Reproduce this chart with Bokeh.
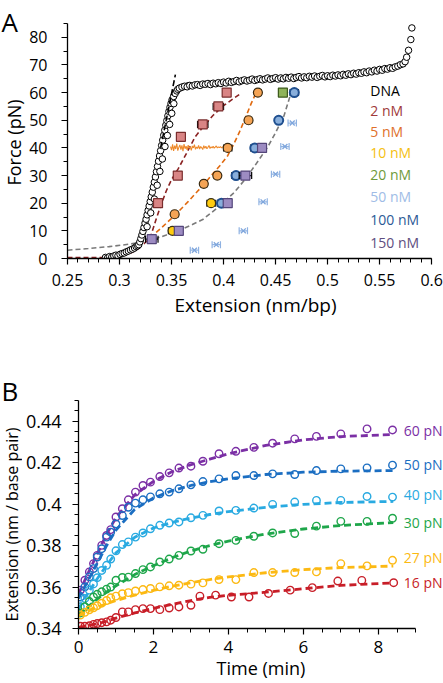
import numpy as np
from bokeh.plotting import figure
from bokeh.layouts import column, row
from bokeh.models import Range1d, FixedTicker, NumeralTickFormatter, Label
from bokeh.embed import file_html
from bokeh.resources import INLINE
from bokeh.core.properties import value

FONT = "Open Sans"

# ======================= Panel A data =======================
# DNA force-extension curve (extension nm/bp, force pN)
DNA = [
    (0.2865, 0.4), (0.2885, 0.2), (0.2905, 0.7), (0.2925, 0.5), (0.2945, 0.9), (0.2965, 1.2),
    (0.2985, 1.0), (0.3005, 1.5), (0.3025, 1.8), (0.3045, 2.0), (0.3065, 2.4), (0.3085, 2.7),
    (0.3105, 3.1), (0.3125, 3.4), (0.3145, 3.8), (0.3160, 4.3), (0.3175, 4.6),
    (0.3185, 5.0), (0.3195, 6.0), (0.3205, 7.2), (0.3215, 8.5), (0.3225, 9.8), (0.3235, 11.2),
    (0.3245, 12.8), (0.3255, 14.2), (0.3265, 15.8), (0.3275, 17.4), (0.3285, 19.0), (0.3295, 20.6),
    (0.3305, 22.3), (0.3315, 24.0), (0.3325, 25.8), (0.3335, 27.6), (0.3345, 29.5), (0.3355, 31.4),
    (0.3365, 33.3), (0.3375, 35.2), (0.3385, 37.1), (0.3395, 39.0), (0.3405, 40.9), (0.3415, 42.8),
    (0.3425, 44.6), (0.3435, 46.4), (0.3445, 48.2), (0.3455, 49.9), (0.3465, 51.6), (0.3475, 53.2),
    (0.3485, 54.7), (0.3495, 56.1), (0.3505, 57.4), (0.3520, 58.6), (0.3535, 59.7), (0.3550, 60.6),
    (0.3265, 11.5), (0.3300, 16.5), (0.3335, 21.5), (0.3362, 26.5), (0.3388, 31.5), (0.3412, 36.0),
    (0.3437, 40.5), (0.3460, 44.5), (0.3482, 48.5), (0.3502, 52.5), (0.3522, 56.0),
    (0.3560, 61.2), (0.3590, 61.8), (0.3620, 62.2), (0.3660, 62.5),
    (0.3575, 61.6), (0.3600, 62.0), (0.3625, 62.3), (0.3650, 62.1), (0.3675, 62.6), (0.3700, 62.4),
    (0.3725, 62.8), (0.3750, 62.9), (0.3775, 62.6), (0.3800, 63.1), (0.3825, 63.0), (0.3850, 63.3),
    (0.3875, 62.9), (0.3900, 63.4), (0.3925, 63.2), (0.3950, 63.6), (0.3975, 63.3), (0.4000, 63.8),
    (0.4025, 63.5), (0.4050, 64.1), (0.4075, 63.7), (0.4100, 64.0), (0.4125, 64.4), (0.4150, 63.9),
    (0.4175, 64.3), (0.4200, 64.6), (0.4225, 64.2), (0.4250, 64.5), (0.4275, 64.9), (0.4300, 64.4),
    (0.4325, 64.7), (0.4350, 65.0), (0.4375, 64.6), (0.4400, 64.9), (0.4425, 65.3), (0.4450, 64.8),
    (0.4475, 65.1), (0.4500, 65.4), (0.4525, 64.9), (0.4550, 65.3), (0.4575, 65.0), (0.4600, 65.5),
    (0.4625, 65.2), (0.4650, 65.6), (0.4675, 65.1), (0.4700, 65.5), (0.4725, 65.8), (0.4750, 65.3),
    (0.4775, 65.7), (0.4800, 65.4), (0.4825, 65.9), (0.4850, 65.6), (0.4875, 66.0), (0.4900, 65.5),
    (0.4925, 65.9), (0.4950, 66.2), (0.4975, 65.7), (0.5000, 66.1), (0.5025, 65.8), (0.5050, 66.3),
    (0.5075, 66.0), (0.5100, 66.4), (0.5125, 66.1), (0.5150, 66.6), (0.5175, 66.3), (0.5200, 66.8),
    (0.5225, 66.5), (0.5250, 67.0), (0.5275, 66.7), (0.5300, 67.2), (0.5325, 67.0), (0.5350, 67.5),
    (0.5375, 67.2), (0.5400, 67.8), (0.5425, 67.5), (0.5450, 68.1), (0.5475, 67.8), (0.5500, 68.4),
    (0.5525, 68.1), (0.5550, 68.7), (0.5575, 68.5), (0.5600, 69.0), (0.5625, 68.8), (0.5650, 69.3),
    (0.5675, 69.6), (0.5700, 70.1), (0.5725, 70.4), (0.5745, 71.2), (0.5760, 72.8), (0.5778, 75.3),
    (0.5800, 79.2), (0.5810, 83.4),
]
DNA_FIT = [(0.3395, 40.0), (0.3537, 66.5)]

# orange force-clamp trace at 40 pN
TRACE_40 = [
    (0.349, 40.5), (0.350, 39.2), (0.351, 41.3), (0.352, 38.9), (0.353, 40.8), (0.354, 39.6),
    (0.355, 41.6), (0.356, 39.0), (0.357, 40.2), (0.358, 41.1), (0.359, 39.4), (0.360, 40.9),
    (0.361, 38.8), (0.362, 41.4), (0.363, 39.7), (0.364, 40.6), (0.365, 39.3), (0.366, 41.0),
    (0.367, 39.9), (0.368, 40.4), (0.369, 39.1), (0.370, 40.7), (0.371, 40.0), (0.372, 41.2),
    (0.373, 39.5), (0.374, 40.3), (0.375, 39.8), (0.376, 40.9), (0.377, 39.6), (0.378, 40.5),
    (0.379, 40.1), (0.380, 39.4), (0.381, 40.8), (0.382, 39.9), (0.383, 40.6), (0.384, 39.7),
    (0.385, 40.2), (0.386, 40.9), (0.387, 39.8), (0.388, 40.4), (0.389, 40.0), (0.390, 40.6),
    (0.391, 39.9), (0.392, 40.3), (0.393, 40.7), (0.394, 40.0), (0.395, 40.4), (0.396, 40.1),
    (0.397, 40.5), (0.398, 40.0), (0.399, 40.3), (0.400, 40.6), (0.401, 40.2), (0.402, 40.4),
    (0.403, 40.1), (0.404, 40.3),
]

# dashed fits
FIT_2NM = [(0.25, 0.3), (0.27, 0.3), (0.29, 0.4), (0.30, 0.8), (0.31, 1.8), (0.318, 3.5),
           (0.324, 5.5), (0.3295, 7.5), (0.335, 14.0), (0.34, 19.5), (0.345, 24.5), (0.35, 28.5),
           (0.3565, 32.5), (0.365, 38.5), (0.3724, 43.8), (0.38, 47.5), (0.39, 51.8), (0.40, 55.3),
           (0.41, 58.0), (0.417, 59.8)]
FIT_5NM = [(0.3295, 7.5), (0.34, 11.0), (0.35, 14.5), (0.355, 16.3), (0.365, 20.2), (0.375, 24.3),
           (0.382, 27.2), (0.39, 30.8), (0.397, 33.8), (0.404, 37.2), (0.41, 41.5), (0.415, 45.5),
           (0.42, 50.0), (0.4265, 56.0), (0.4315, 60.2)]
FIT_GRAY = [(0.25, 3.0), (0.27, 3.6), (0.29, 4.3), (0.31, 5.2), (0.33, 6.6), (0.345, 8.5),
            (0.36, 10.6), (0.37, 12.3), (0.38, 14.1), (0.395, 18.6), (0.41, 23.8), (0.42, 28.3),
            (0.43, 33.5), (0.4424, 40.3), (0.45, 45.5), (0.458, 51.5), (0.465, 60.1)]

# protein concentration series: extension, force, extension error (half width)
C2_X = [0.337, 0.356, 0.359, 0.380, 0.395, 0.403]
C2_F = [20, 30, 44, 48.5, 55, 60]
C2_E = [0.004, 0.003, 0.002, 0.005, 0.005, 0.002]
C5_X = [0.353, 0.381, 0.394, 0.404, 0.424, 0.433]
C5_F = [16, 27, 30, 40, 50, 60]
C5_E = [0.003, 0.003, 0.003, 0.004, 0.003, 0.003]
C10_X = [0.351, 0.388]
C10_F = [10, 20]
C10_E = [0.004, 0.004]
C20_X = [0.457]
C20_F = [60]
C20_E = [0.004]
C50_X = [0.372, 0.393, 0.419, 0.438, 0.450, 0.459, 0.466]
C50_F = [3, 5, 10, 20.5, 30.5, 40.5, 49]
C50_E = [0.004, 0.004, 0.004, 0.004, 0.004, 0.004, 0.004]
C100_X = [0.398, 0.412, 0.430, 0.453, 0.468]
C100_F = [20, 30, 40, 50, 60]
C100_E = [0.004, 0.004, 0.004, 0.003, 0.004]
C150_X = [0.331, 0.357, 0.404, 0.421, 0.437]
C150_F = [7, 10, 20, 30, 40]
C150_E = [0.006, 0.003, 0.003, 0.006, 0.003]

LEGEND_A = ["DNA", "2 nM", "5 nM", "10 nM", "20 nM", "50 nM", "100 nM", "150 nM"]
LEGEND_A_COLORS = ["#000000", "#a03a3a", "#e0702a", "#f5c010", "#6f9a3a", "#a0bce6", "#2c5a96", "#5e4e80"]

X_TICKS_A = [0.25, 0.3, 0.35, 0.4, 0.45, 0.5, 0.55, 0.6]
Y_TICKS_A = [0, 10, 20, 30, 40, 50, 60, 70, 80]

# ======================= Panel B data =======================
T_EARLY = [0.05, 0.17, 0.29, 0.40, 0.50, 0.62, 0.75, 0.86, 1.00, 1.17, 1.33, 1.52, 1.72, 1.92,
           2.17, 2.42, 2.68, 3.00]
T_LATE = [3.32, 3.75, 4.20, 4.68, 5.18, 5.77, 6.35, 7.00, 7.70, 8.38]
T_LATE_16 = [3.24, 3.66, 4.08, 4.55, 5.07, 5.65, 6.24, 6.92, 7.56, 8.41]

E60 = [0.3585, 0.3633, 0.3673, 0.3713, 0.3753, 0.3801, 0.3849, 0.3877, 0.3938, 0.3978, 0.4021, 0.4058,
       0.4090, 0.4106, 0.4133, 0.4151, 0.4174, 0.4183,
       0.4207, 0.4243, 0.4255, 0.4274, 0.4294, 0.4315, 0.4327, 0.4339, 0.4363, 0.4358]
E50 = [0.3552, 0.3601, 0.3649, 0.3689, 0.3745, 0.3785, 0.3841, 0.3865, 0.3905, 0.3945, 0.3985, 0.4005,
       0.4021, 0.4035, 0.4050, 0.4058, 0.4074, 0.4093,
       0.4109, 0.4122, 0.4138, 0.4138, 0.4146, 0.4143, 0.4162, 0.4170, 0.4175, 0.4188]
E40 = [0.3505, 0.3545, 0.3585, 0.3615, 0.3645, 0.3680, 0.3705, 0.3735, 0.3775, 0.3805, 0.3818, 0.3841,
       0.3861, 0.3881, 0.3898, 0.3909, 0.3914, 0.3934,
       0.3946, 0.3967, 0.3970, 0.3981, 0.3999, 0.4010, 0.4018, 0.4018, 0.4037, 0.4034]
E30 = [0.3475, 0.3505, 0.3530, 0.3552, 0.3565, 0.3577, 0.3590, 0.3600, 0.3633, 0.3646, 0.3648, 0.3665,
       0.3684, 0.3697, 0.3721, 0.3735, 0.3753, 0.3774,
       0.3782, 0.3809, 0.3825, 0.3845, 0.3861, 0.3858, 0.3894, 0.3917, 0.3917, 0.3932]
E27 = [0.3465, 0.3478, 0.3490, 0.3500, 0.3510, 0.3522, 0.3535, 0.3548, 0.3556, 0.3568, 0.3573, 0.3581,
       0.3588, 0.3593, 0.3601, 0.3606, 0.3609, 0.3614,
       0.3620, 0.3636, 0.3636, 0.3670, 0.3670, 0.3670, 0.3673, 0.3713, 0.3702, 0.3729]
E16 = [0.3411, 0.3411, 0.3413, 0.3420, 0.3424, 0.3428, 0.3432, 0.3440, 0.3453, 0.3480, 0.3480, 0.3491,
       0.3496, 0.3496, 0.3491, 0.3499, 0.3504, 0.3512,
       0.3556, 0.3561, 0.3552, 0.3552, 0.3569, 0.3585, 0.3597, 0.3629, 0.3632, 0.3621]

T_FIT = [0, 0.25, 0.5, 0.75, 1, 1.5, 2, 2.5, 3, 3.5, 4, 5, 6, 7, 8.4]
FIT60 = [0.3565, 0.3665, 0.3760, 0.3855, 0.3935, 0.4045, 0.4110, 0.4157, 0.4190, 0.4217, 0.4243, 0.4283, 0.4310, 0.4326, 0.4336]
FIT50 = [0.3545, 0.3630, 0.3715, 0.3800, 0.3875, 0.3975, 0.4030, 0.4065, 0.4090, 0.4108, 0.4122, 0.4143, 0.4154, 0.4159, 0.4162]
FIT40 = [0.3495, 0.3570, 0.3640, 0.3705, 0.3765, 0.3840, 0.3885, 0.3912, 0.3933, 0.3950, 0.3964, 0.3985, 0.3999, 0.4008, 0.4013]
FIT30 = [0.3465, 0.3505, 0.3542, 0.3576, 0.3606, 0.3660, 0.3703, 0.3742, 0.3774, 0.3800, 0.3822, 0.3856, 0.3880, 0.3897, 0.3911]
FIT27 = [0.3462, 0.3484, 0.3503, 0.3520, 0.3535, 0.3561, 0.3584, 0.3604, 0.3621, 0.3636, 0.3649, 0.3669, 0.3684, 0.3694, 0.3701]
FIT16 = [0.3405, 0.3413, 0.3423, 0.3435, 0.3450, 0.3475, 0.3497, 0.3517, 0.3535, 0.3550, 0.3560, 0.3575, 0.3592, 0.3608, 0.3620]

LABELS_B = ["60 pN", "50 pN", "40 pN", "30 pN", "27 pN", "16 pN"]
COLORS_B = ["#7b2fa5", "#1b6ec2", "#29aae1", "#1ea64a", "#fcb913", "#c81e28"]

X_TICKS_B = [0, 2, 4, 6, 8]
Y_TICKS_B = [0.34, 0.36, 0.38, 0.40, 0.42, 0.44]


def style_axes(p, xsize, ysize, x_standoff, y_standoff):
    p.xgrid.visible = False
    p.ygrid.visible = False
    p.outline_line_color = None
    p.background_fill_color = "white"
    p.border_fill_color = "white"
    for ax in (p.xaxis[0], p.yaxis[0]):
        ax.axis_line_color = "black"
        ax.axis_line_width = 1.3
        ax.major_tick_line_color = "black"
        ax.major_tick_line_width = 1.2
        ax.minor_tick_line_color = "black"
        ax.minor_tick_line_width = 1.0
        ax.major_tick_in = 0
        ax.major_tick_out = 6
        ax.minor_tick_in = 0
        ax.minor_tick_out = 4
        ax.major_label_text_font = FONT
        ax.major_label_text_color = "black"
        ax.axis_label_text_font = FONT
        ax.axis_label_text_font_style = "normal"
        ax.axis_label_text_color = "black"
    p.xaxis[0].major_label_text_font_size = xsize
    p.yaxis[0].major_label_text_font_size = ysize
    p.xaxis[0].major_label_standoff = x_standoff
    p.yaxis[0].major_label_standoff = y_standoff


def strip(width, height, y_top):
    # narrow text strip using page pixel coordinates (y grows downwards)
    s = figure(width=width, height=height, x_range=Range1d(0, width),
               y_range=Range1d(y_top + height, y_top), x_axis_type=None, y_axis_type=None,
               output_backend="svg", toolbar_location=None, min_border=0)
    s.outline_line_color = None
    s.xgrid.visible = False
    s.ygrid.visible = False
    return s


def xy(pairs):
    return [a for a, b in pairs], [b for a, b in pairs]


# ======================= Row 1: panel A =======================
sA = strip(26, 330, 0)
sA.text([1], [21], text=["A"], text_font=value(FONT), text_font_size="26px",
        text_color="black", text_baseline="alphabetic", text_align="left")
sA.text([13], [142], text=["Force (pN)"], angle=np.pi / 2, text_font=value(FONT),
        text_font_size="18px", text_color="black", text_baseline="middle", text_align="center")

pa = figure(width=417, height=330, x_range=Range1d(0.25, 0.6114), y_range=Range1d(0, 85),
            output_backend="svg", toolbar_location=None,
            min_border_left=39, min_border_right=0, min_border_top=23, min_border_bottom=72)
style_axes(pa, "16px", "16px", 9, 14)
pa.xaxis[0].bounds = (0.25, 0.6)
pa.xaxis[0].ticker = FixedTicker(ticks=X_TICKS_A,
                                 minor_ticks=[round(0.25 + 0.01 * i, 3) for i in range(36)])
pa.yaxis[0].ticker = FixedTicker(ticks=Y_TICKS_A, minor_ticks=[5 * i for i in range(18)])
pa.xaxis[0].formatter = NumeralTickFormatter(format="0.[00]")
pa.xaxis[0].axis_label = "Extension (nm/bp)"
pa.xaxis[0].axis_label_text_font_size = "19px"
pa.xaxis[0].axis_label_standoff = 3

gx, gy = xy(FIT_GRAY)
pa.line(gx, gy, line_color="#7a7a7a", line_width=1.6, line_dash="5 3")
rx, ry = xy(FIT_2NM)
pa.line(rx, ry, line_color="#8b2323", line_width=1.6, line_dash="5 3")
ox, oy = xy(FIT_5NM)
pa.line(ox, oy, line_color="#e06a10", line_width=1.6, line_dash="5 3")

dx, dy = xy(DNA)
pa.scatter(dx, dy, marker="circle", size=6.5, line_color="black", fill_color="white", line_width=1.0)
fx, fy = xy(DNA_FIT)
pa.line(fx, fy, line_color="black", line_width=1.6, line_dash="6 3")

tx, ty = xy(TRACE_40)
pa.line(tx, ty, line_color="#ee8a2c", line_width=1.1)


def series(xs, fs, es, marker, fill, line, bar_color="black", lw=1.2, size=9):
    lo = [x - e for x, e in zip(xs, es)]
    hi = [x + e for x, e in zip(xs, es)]
    pa.segment(lo, fs, hi, fs, line_color=bar_color, line_width=1.2)
    pa.scatter(lo + hi, fs + fs, marker="dash", angle=np.pi / 2, size=7,
               line_color=bar_color, line_width=1.2)
    pa.scatter(xs, fs, marker=marker, size=size, fill_color=fill, line_color=line, line_width=lw)


series(C2_X, C2_F, C2_E, "square", "#d98585", "#7a2e2e")
series(C5_X, C5_F, C5_E, "circle", "#f5a455", "#3a2a10")
series(C10_X, C10_F, C10_E, "circle", "#ffcc11", "#3a3010")
series(C20_X, C20_F, C20_E, "square", "#8fb35a", "#3d5a1c")
series(C50_X, C50_F, C50_E, "x", None, "#7fa6dc", bar_color="#8fb2e2", lw=1.3, size=7)
series(C100_X, C100_F, C100_E, "circle", "#88aedb", "#1f4f8f", lw=2.0)
series(C150_X, C150_F, C150_E, "square", "#9d8cc2", "#54467a")

legend_y = [60.6, 53.5, 46.0, 38.4, 30.4, 22.5, 14.2, 5.7]
pa.text([0.541] * len(LEGEND_A), legend_y, text=LEGEND_A, text_color=LEGEND_A_COLORS,
        text_font=value(FONT), text_font_size="14px", text_baseline="middle", text_align="left")

# ======================= Row 2: panel B =======================
sB = strip(22, 353, 330)
sB.text([1], [390], text=["B"], text_font=value(FONT), text_font_size="26px",
        text_color="black", text_baseline="alphabetic", text_align="left")
sB.text([11], [524], text=["Extension (nm / base pair)"], angle=np.pi / 2, text_font=value(FONT),
        text_font_size="16px", text_color="black", text_baseline="middle", text_align="center")

pb = figure(width=421, height=353, x_range=Range1d(0, 9.74), y_range=Range1d(0.34, 0.45),
            output_backend="svg", toolbar_location=None,
            min_border_left=53, min_border_right=0, min_border_top=70, min_border_bottom=55)
style_axes(pb, "17px", "18px", 6, 11)
pb.xaxis[0].bounds = (0, 9)
pb.xaxis[0].ticker = FixedTicker(ticks=X_TICKS_B, minor_ticks=[0.5 * i for i in range(19)])
pb.yaxis[0].ticker = FixedTicker(ticks=Y_TICKS_B,
                                 minor_ticks=[round(0.34 + 0.005 * i, 3) for i in range(23)])
pb.yaxis[0].formatter = NumeralTickFormatter(format="0.[00]")
pb.xaxis[0].axis_label = "Time (min)"
pb.xaxis[0].axis_label_text_font_size = "18px"
pb.xaxis[0].axis_label_standoff = 0

data_b = [E60, E50, E40, E30, E27, E16]
fits_b = [FIT60, FIT50, FIT40, FIT30, FIT27, FIT16]
label_offsets = [0.0019, 0.0029, 0.0034, 0.0000, 0.0042, 0.0000]
for i, (vals, fit, col) in enumerate(zip(data_b, fits_b, COLORS_B)):
    times = T_EARLY + (T_LATE_16 if i == 5 else T_LATE)
    pb.line(T_FIT, fit, line_color=col, line_width=2.8, line_dash="7 4")
    pb.scatter(times, vals, marker="circle", size=7.5, fill_color=None, line_color=col,
               line_width=1.4)
    pb.add_layout(Label(x=8.68, y=fit[-1] + label_offsets[i], text=LABELS_B[i], text_font=FONT,
                        text_font_size="14px", text_color=col, text_baseline="middle",
                        text_align="left"))

layout = column(row(sA, column(pa)), row(sB, column(pb)), spacing=0)
open("out.html", "w").write(file_html(layout, INLINE))
